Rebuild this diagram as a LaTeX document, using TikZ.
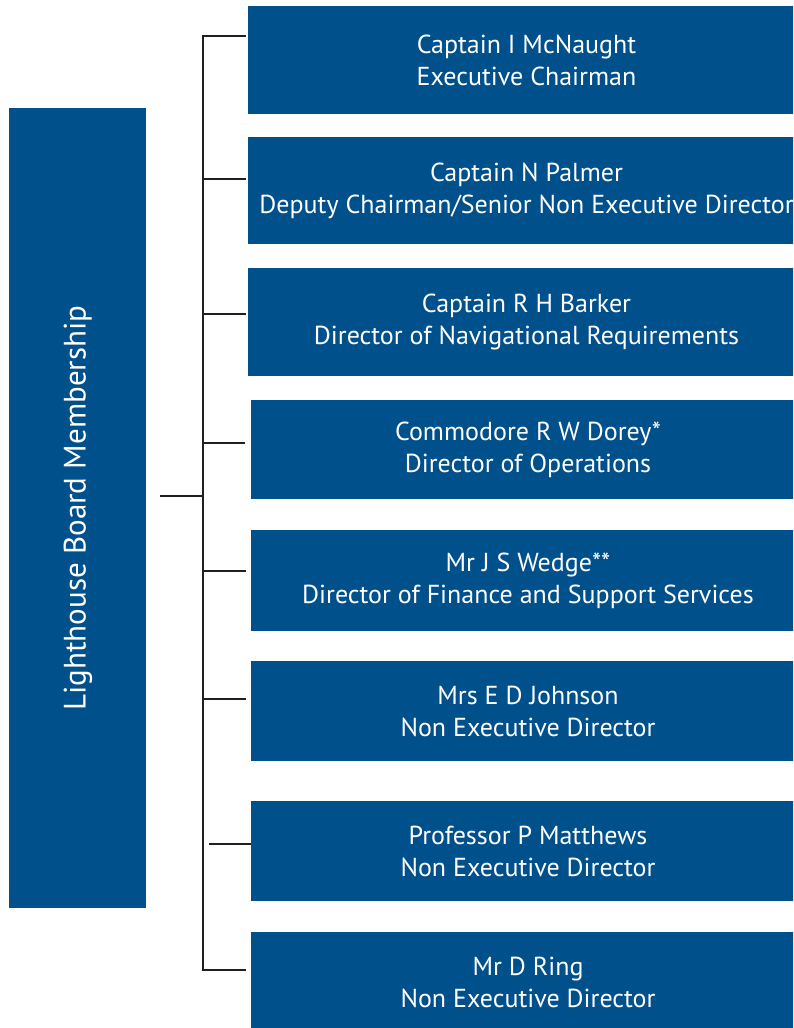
\documentclass[tikz,border=0pt]{standalone}
\usepackage{fontspec}
\setmainfont{PT Sans}
\usepackage{xcolor}
\usepackage{tikz}

\definecolor{boardblue}{RGB}{0,80,140}
\definecolor{linegrey}{RGB}{35,31,32}

\tikzset{
  member/.style={fill=boardblue, draw=none, text=white, align=center,
    font=\fontsize{26}{32}\selectfont, inner sep=0pt},
  bracket/.style={draw=linegrey, line width=2pt}
}

\begin{document}
\begin{tikzpicture}[x=1pt, y=-1pt]
             \useasboundingbox (0,0) rectangle (793,1028);
             \clip (0,0) rectangle (793,1028);

             % title bar on the left
             \node[member, minimum width=137, minimum height=800] (board) at (77.5, 508) {};
             \node[member, rotate=90, font=\fontsize{31}{36}\selectfont] (title) at (78, 508) {Lighthouse Board Membership};

             % one box per board member
             \node[member, minimum width=557, minimum height=108] (m1) at (526.5, 60) {Captain I McNaught\\Executive Chairman};
             \node[member, minimum width=557, minimum height=107] (m2) at (526.5, 190.5) {Captain N Palmer\\Deputy Chairman/Senior Non Executive Director};
             \node[member, minimum width=557, minimum height=108] (m3) at (526.5, 322) {Captain R H Barker\\Director of Navigational Requirements};
             \node[member, minimum width=554, minimum height=99] (m4) at (528, 449.5) {Commodore R W Dorey*\\Director of Operations};
             \node[member, minimum width=554, minimum height=101] (m5) at (528, 580.5) {Mr J S Wedge**\\Director of Finance and Support Services};
             \node[member, minimum width=554, minimum height=100] (m6) at (528, 711) {Mrs E D Johnson\\Non Executive Director};
             \node[member, minimum width=554, minimum height=100] (m7) at (528, 851) {Professor P Matthews\\Non Executive Director};
             \node[member, minimum width=554, minimum height=100] (m8) at (528, 982) {Mr D Ring\\Non Executive Director};

             % bracket
             \coordinate (top) at (203, 36);
             \coordinate (bottom) at (203, 970);
             \coordinate (join) at (160, 496);
             \coordinate (t1) at (246, 36);
             \coordinate (t2) at (246, 179);
             \coordinate (t3) at (246, 314);
             \coordinate (t4) at (245, 443);
             \coordinate (t5) at (246, 571);
             \coordinate (t6) at (246, 699);
             \coordinate (t7) at (251, 844);
             \coordinate (s7) at (209, 844);
             \coordinate (t8) at (246, 970);

             \draw[bracket] (t1) -- (top) -- (bottom) -- (t8);
             \draw[bracket] (join) -- (join -| top);
             \draw[bracket] (t2 -| top) -- (t2);
             \draw[bracket] (t3 -| top) -- (t3);
             \draw[bracket] (t4 -| top) -- (t4);
             \draw[bracket] (t5 -| top) -- (t5);
             \draw[bracket] (t6 -| top) -- (t6);
             \draw[bracket] (s7) -- (t7);
\end{tikzpicture}
\end{document}
